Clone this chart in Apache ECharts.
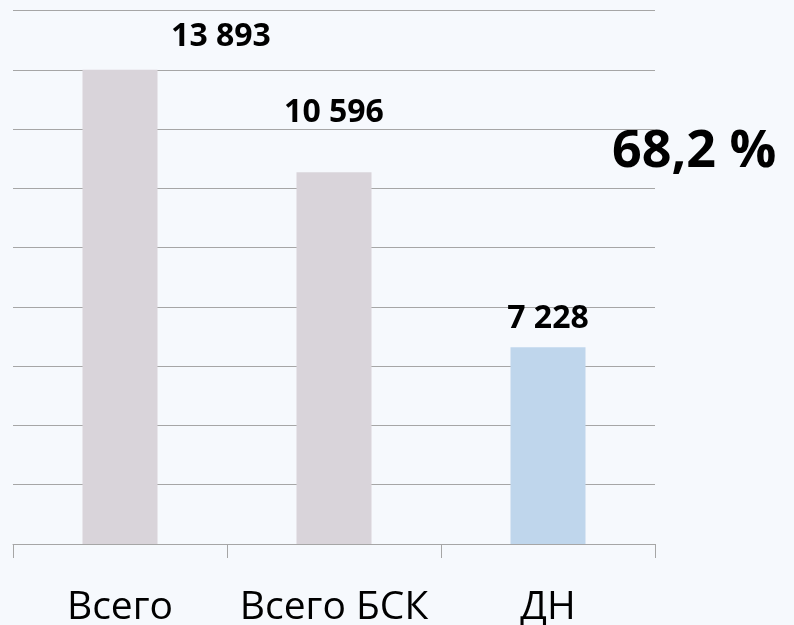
<!DOCTYPE html>
<html>
<head>
<meta charset="utf-8">
<script src="https://cdn.jsdelivr.net/npm/echarts@6/dist/echarts.min.js"></script>
<style>
html,body{margin:0;padding:0;background:#f6f9fd;}
#chart{width:794px;height:625px;}
</style>
</head>
<body>
<div id="chart"></div>
<script>
// ---- data ----
const categories = ['Всего', 'Всего БСК', 'ДН'];
const labelValues = [13893, 10596, 7228];          // numbers printed above the bars
const barLevels = [8, 6.27, 3.32];                 // bar heights read on the (hidden) gridline scale
const gridTicks = { min: 0, max: 9, interval: 1 };
const shareText = '68,2 %';

// ---- styles ----
const barColors = ['#d9d4da', '#d9d4da', '#bfd6ec'];
const labelOffsets = [[101, -12], [0, -38], [0, -7]];

function fmt(n) {
  return String(n).replace(/\B(?=(\d{3})+(?!\d))/g, ' ');
}

const chart = echarts.init(document.getElementById('chart'), null, { renderer: 'canvas' });

const seriesData = barLevels.map((v, i) => ({
  value: v,
  itemStyle: { color: barColors[i] },
  label: { offset: labelOffsets[i] }
}));

chart.setOption({
  backgroundColor: '#f6f9fd',
  animation: false,
  grid: { left: 13, right: 139, top: 10.5, bottom: 81, containLabel: false, outerBoundsMode: 'none' },
  xAxis: {
    type: 'category',
    data: categories,
    axisLine: { show: true, lineStyle: { color: '#a6a6a6', width: 1 } },
    axisTick: { show: true, interval: 0, length: 14, lineStyle: { color: '#a6a6a6', width: 1 } },
    axisLabel: {
      interval: 0,
      color: '#000',
      fontFamily: 'Open Sans',
      fontSize: 39,
      lineHeight: 40,
      margin: 44
    }
  },
  yAxis: {
    type: 'value',
    min: gridTicks.min,
    max: gridTicks.max,
    interval: gridTicks.interval,
    axisLabel: { show: false },
    axisLine: { show: false },
    axisTick: { show: false },
    splitLine: { show: true, lineStyle: { color: '#a6a6a6', width: 1 } }
  },
  series: [{
    type: 'bar',
    data: seriesData,
    barWidth: 75,
    label: {
      show: true,
      position: 'top',
      distance: 5,
      color: '#000',
      fontFamily: 'Open Sans',
      fontWeight: 'bold',
      fontSize: 32,
      lineHeight: 32,
      formatter: p => fmt(labelValues[p.dataIndex])
    }
  }],
  graphic: [{
    type: 'text',
    left: 612,
    top: 126,
    style: {
      text: shareText,
      font: 'bold 52px "Open Sans"',
      fill: '#000'
    }
  }]
});
</script>
</body>
</html>
